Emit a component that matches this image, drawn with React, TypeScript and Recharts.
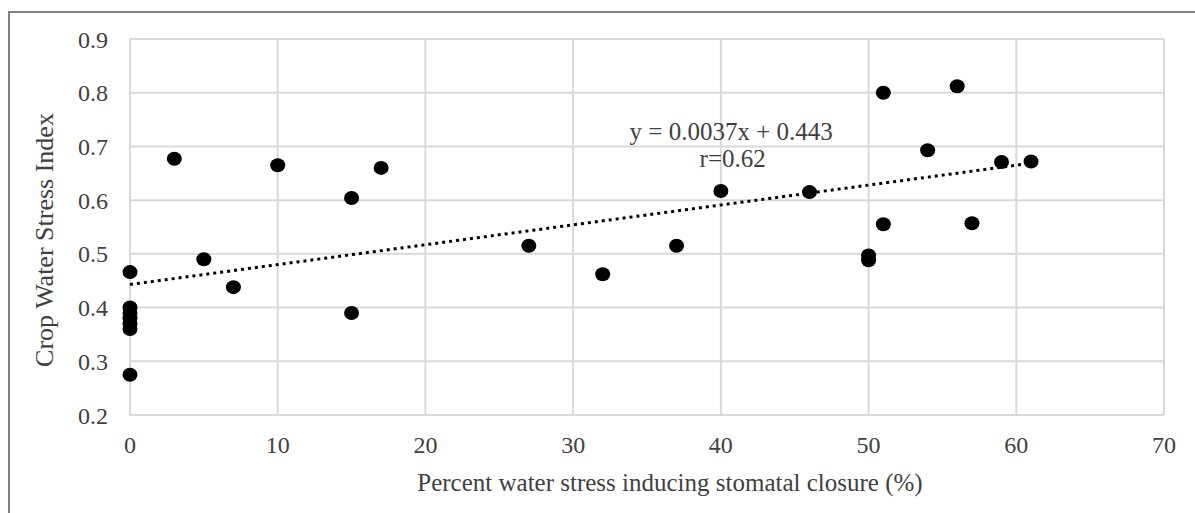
import React from 'react';
import {
  ScatterChart,
  Scatter,
  XAxis,
  YAxis,
  CartesianGrid,
  ReferenceDot,
} from 'recharts';

// percent water stress inducing stomatal closure (%)
const stressPct = [
  0, 0, 0, 0, 0, 0, 0, 3, 5, 7, 10, 15, 15, 17, 27, 32, 37, 40, 46, 50, 50, 51, 51, 54, 56, 57, 59, 61,
];
// crop water stress index
const cwsi = [
  0.466, 0.4, 0.39, 0.38, 0.37, 0.36, 0.275, 0.677, 0.49, 0.438, 0.665, 0.604, 0.39, 0.66, 0.515, 0.462,
  0.515, 0.617, 0.615, 0.497, 0.488, 0.8, 0.555, 0.693, 0.812, 0.557, 0.671, 0.672,
];

const xTicks = [0, 10, 20, 30, 40, 50, 60, 70];
const yTicks = [0.2, 0.3, 0.4, 0.5, 0.6, 0.7, 0.8, 0.9];

// trend line as printed on the chart
const slope = 0.0037;
const intercept = 0.443;
const trendX = [0, 61];

const points = stressPct.map((x, i) => ({ x, y: cwsi[i] }));
const trend = trendX.map((x) => ({ x, y: slope * x + intercept }));

const FONT = '"Liberation Serif", "Times New Roman", serif';
const TEXT = '#404040';
const GRID = '#d9d9d9';

const Dot = (props: any) => {
  const { cx, cy } = props;
  if (cx == null || cy == null) return null;
  return <ellipse cx={cx} cy={cy} rx={7.5} ry={7} fill="#000" />;
};

const XLabel = (props: any) => {
  const vb = props.viewBox;
  return (
    <text
      x={vb.x + vb.width / 2 + 23}
      y={491}
      textAnchor="middle"
      fontFamily={FONT}
      fontSize={25}
      fill={TEXT}
    >
      Percent water stress inducing stomatal closure (%)
    </text>
  );
};

const YLabel = (props: any) => {
  const vb = props.viewBox;
  const cy = vb.y + vb.height / 2 + 13;
  return (
    <text
      x={44}
      y={cy}
      transform={`rotate(-90, 44, ${cy})`}
      textAnchor="middle"
      dominantBaseline="central"
      fontFamily={FONT}
      fontSize={26}
      fill={TEXT}
    >
      Crop Water Stress Index
    </text>
  );
};

export default function App() {
  return (
    <div
      style={{
        position: 'absolute',
        left: 0,
        top: 0,
        width: 1195,
        height: 513,
        background: '#fff',
      }}
    >
      {/* outer frame (top and left edges only) */}
      <div style={{ position: 'absolute', left: 8, top: 11, width: 1187, height: 2, background: '#7f7f7f' }} />
      <div style={{ position: 'absolute', left: 8, top: 11, width: 2, height: 502, background: '#7f7f7f' }} />
      <ScatterChart
        width={1195}
        height={513}
        margin={{ top: 39, right: 31, bottom: 0, left: 0 }}
        style={{ position: 'absolute', left: 0, top: 0 }}
      >
        <CartesianGrid stroke={GRID} strokeWidth={2} horizontalValues={yTicks} verticalValues={xTicks} />
        <XAxis
          type="number"
          dataKey="x"
          domain={[0, 70]}
          ticks={xTicks}
          height={98}
          axisLine={false}
          tickLine={false}
          tickSize={0}
          tickMargin={21}
          tick={{ fill: TEXT, fontSize: 24, fontFamily: FONT }}
          label={{ content: XLabel }}
        />
        <YAxis
          type="number"
          dataKey="y"
          domain={[0.2, 0.9]}
          ticks={yTicks}
          width={130}
          axisLine={false}
          tickLine={false}
          tickSize={0}
          tickMargin={22}
          tickFormatter={(v: number) => v.toFixed(1)}
          tick={{ fill: TEXT, fontSize: 24, fontFamily: FONT }}
          label={{ content: YLabel }}
        />
        <Scatter
          data={trend}
          line={{ stroke: '#000', strokeWidth: 3, strokeDasharray: '3 4' }}
          shape={() => null}
          isAnimationActive={false}
        />
        <Scatter data={points} fill="#000" shape={Dot} isAnimationActive={false} />
        <ReferenceDot
          x={40.7}
          y={0.729}
          r={0}
          fill="none"
          stroke="none"
          label={{ value: 'y = 0.0037x + 0.443', position: 'center', fontSize: 25, fontFamily: FONT, fill: TEXT }}
        />
        <ReferenceDot
          x={40.8}
          y={0.679}
          r={0}
          fill="none"
          stroke="none"
          label={{ value: 'r=0.62', position: 'center', fontSize: 25, fontFamily: FONT, fill: TEXT }}
        />
      </ScatterChart>
    </div>
  );
}
